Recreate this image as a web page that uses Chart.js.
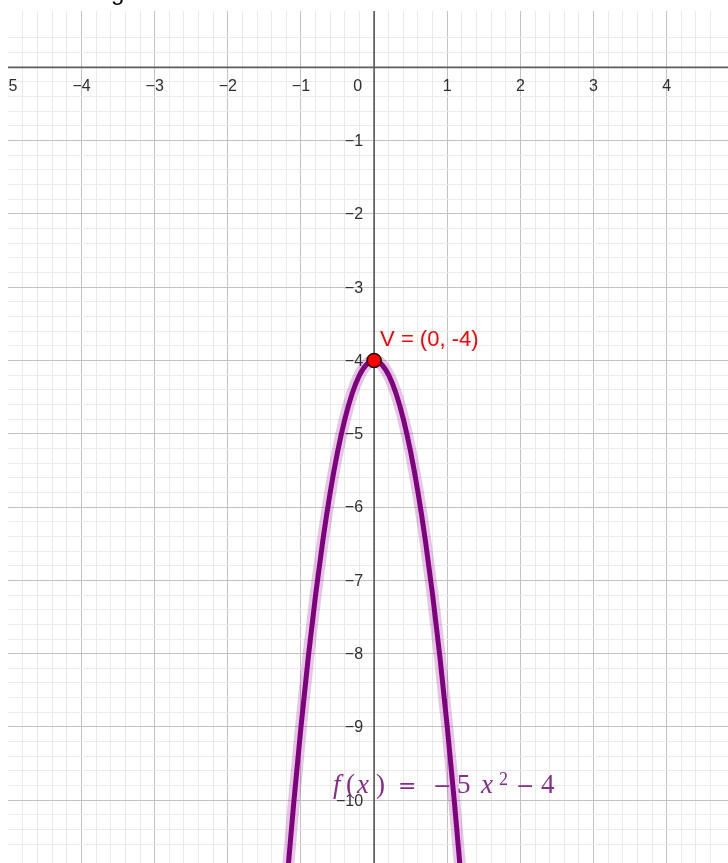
<!DOCTYPE html>
<html>
<head>
<meta charset="utf-8">
<script src="https://cdn.jsdelivr.net/npm/chart.js@4.4.1/dist/chart.umd.min.js"></script>
<style>
  html, body { margin: 0; padding: 0; background: #fff; overflow: hidden; }
  #graph { display: block; }
</style>
</head>
<body>
<canvas id="graph" width="728" height="863"></canvas>
<script>
// sample points of the parabola f(x) = -5x^2 - 4
const curveX = [-1.2, -1.1, -1.0, -0.9, -0.8, -0.7, -0.6, -0.5, -0.4, -0.3, -0.2, -0.1, 0,
                0.1, 0.2, 0.3, 0.4, 0.5, 0.6, 0.7, 0.8, 0.9, 1.0, 1.1, 1.2];
const curveY = [-11.2, -10.05, -9, -8.05, -7.2, -6.45, -5.8, -5.25, -4.8, -4.45, -4.2, -4.05, -4,
                -4.05, -4.2, -4.45, -4.8, -5.25, -5.8, -6.45, -7.2, -8.05, -9, -10.05, -11.2];

// vertex V
const vertexX = [0];
const vertexY = [-4];
const vertexLabel = 'V = (0, -4)';

// axis numbers
const xTickValues = [-5, -4, -3, -2, -1, 0, 1, 2, 3, 4];
const yTickValues = [-1, -2, -3, -4, -5, -6, -7, -8, -9, -10];

// visible window
const xMin = -5.005, xMax = 4.838;
const yMin = -10.856, yMax = 0.768;

const curvePoints = curveX.map((x, i) => ({ x: x, y: curveY[i] }));
const vertexPoints = vertexX.map((x, i) => ({ x: x, y: vertexY[i] }));

const MINUS = '\u2212';
function fmt(v) {
    return v < 0 ? MINUS + Math.abs(v) : String(v);
}

// major lines every 1, minor every 0.2
function gridColor(context) {
    const v = context.tick ? context.tick.value : 0;
    if (Math.abs(v - Math.round(v)) < 1e-6) return '#c2c2c2';
    if (Math.abs(v * 5 - Math.round(v * 5)) < 1e-6) return '#eaeaea';
    return 'rgba(0,0,0,0)';
}

const axesPlugin = {
    id: 'axesAndLabels',
    beforeDatasetsDraw(chart) {
        const { ctx, chartArea: a, scales: { x, y } } = chart;
        const x0 = x.getPixelForValue(0);
        const y0 = y.getPixelForValue(0);
        ctx.save();
        ctx.beginPath();
        ctx.rect(a.left, a.top, a.right - a.left, a.bottom - a.top);
        ctx.clip();

        // axes
        ctx.strokeStyle = '#5e5e5e';
        ctx.lineWidth = 1.7;
        ctx.beginPath();
        ctx.moveTo(a.left, y0);
        ctx.lineTo(a.right, y0);
        ctx.moveTo(x0, a.top);
        ctx.lineTo(x0, a.bottom);
        ctx.stroke();

        // tick numbers
        ctx.fillStyle = '#2e2e2e';
        ctx.font = '16px "Liberation Sans", Arial, sans-serif';
        ctx.textBaseline = 'alphabetic';
        xTickValues.forEach(v => {
            if (v === 0) {
                ctx.textAlign = 'right';
                ctx.fillText('0', x0 - 12, y0 + 24);
            } else {
                ctx.textAlign = 'center';
                ctx.fillText(fmt(v), x.getPixelForValue(v), y0 + 24);
            }
        });
        ctx.textAlign = 'right';
        ctx.textBaseline = 'middle';
        yTickValues.forEach(v => {
            ctx.fillText(fmt(v), x0 - 11, y.getPixelForValue(v) + 1);
        });
        ctx.restore();
    },
    afterDatasetsDraw(chart) {
        const { ctx, scales: { x, y } } = chart;
        const x0 = x.getPixelForValue(0);
        ctx.save();

        // vertex caption
        ctx.fillStyle = '#ff0000';
        ctx.font = '22px "Liberation Sans", Arial, sans-serif';
        ctx.textAlign = 'left';
        ctx.textBaseline = 'alphabetic';
        ctx.fillText(vertexLabel, x.getPixelForValue(vertexX[0]) + 6, y.getPixelForValue(vertexY[0]) - 14);

        // function caption f(x) = −5 x² − 4
        const base = y.getPixelForValue(-10) - 7;
        const serif = '"Liberation Serif", serif';
        const ops = '22px "DejaVu Serif", serif';
        const parts = [
            ['f', 'italic 27px ' + serif, -41, 0],
            ['(', '27px ' + serif, -28, 0],
            ['x', 'italic 27px ' + serif, -17, 0],
            [')', '27px ' + serif, 2, 0],
            ['=', ops, 24, 0],
            [MINUS, ops, 59, 0],
            ['5', '27px ' + serif, 83, 0],
            ['x', 'italic 27px ' + serif, 107, 0],
            ['2', '18px ' + serif, 125, -8],
            [MINUS, ops, 142, 0],
            ['4', '27px ' + serif, 167, 0]
        ];
        ctx.fillStyle = '#862a8c';
        parts.forEach(p => {
            ctx.font = p[1];
            ctx.fillText(p[0], x0 + p[2], base + p[3]);
        });
        ctx.restore();
    },
    afterDraw(chart) {
        // tail of a heading cut off above the view
        const { ctx } = chart;
        ctx.save();
        ctx.fillStyle = '#000';
        ctx.font = '24px "Liberation Sans", Arial, sans-serif';
        ctx.textBaseline = 'alphabetic';
        ctx.fillText('g', 111, 0);
        ctx.restore();
    }
};

new Chart(document.getElementById('graph'), {
    type: 'scatter',
    data: {
        datasets: [
            {
                label: 'V',
                data: vertexPoints,
                order: 0,
                pointRadius: 7,
                pointBackgroundColor: '#ff0000',
                pointBorderColor: '#2a0000',
                pointBorderWidth: 1.5,
                showLine: false
            },
            {
                label: 'f',
                data: curvePoints,
                order: 1,
                showLine: true,
                borderColor: '#800080',
                borderWidth: 5,
                cubicInterpolationMode: 'monotone',
                pointRadius: 0
            },
            {
                label: 'f halo',
                data: curvePoints,
                order: 2,
                showLine: true,
                borderColor: 'rgba(128,0,128,0.22)',
                borderWidth: 12,
                cubicInterpolationMode: 'monotone',
                pointRadius: 0
            }
        ]
    },
    options: {
        responsive: false,
        animation: false,
        layout: { autoPadding: false, padding: { left: 8, top: 11, right: 0, bottom: 0 } },
        plugins: {
            legend: { display: false },
            tooltip: { enabled: false }
        },
        scales: {
            x: {
                type: 'linear',
                min: xMin,
                max: xMax,
                border: { display: false },
                grid: { drawTicks: false, color: gridColor, lineWidth: 1 },
                ticks: { display: false, stepSize: 0.2, autoSkip: false, maxTicksLimit: 1000 }
            },
            y: {
                type: 'linear',
                min: yMin,
                max: yMax,
                border: { display: false },
                grid: { drawTicks: false, color: gridColor, lineWidth: 1 },
                ticks: { display: false, stepSize: 0.2, autoSkip: false, maxTicksLimit: 1000 }
            }
        }
    },
    plugins: [axesPlugin]
});
</script>
</body>
</html>
